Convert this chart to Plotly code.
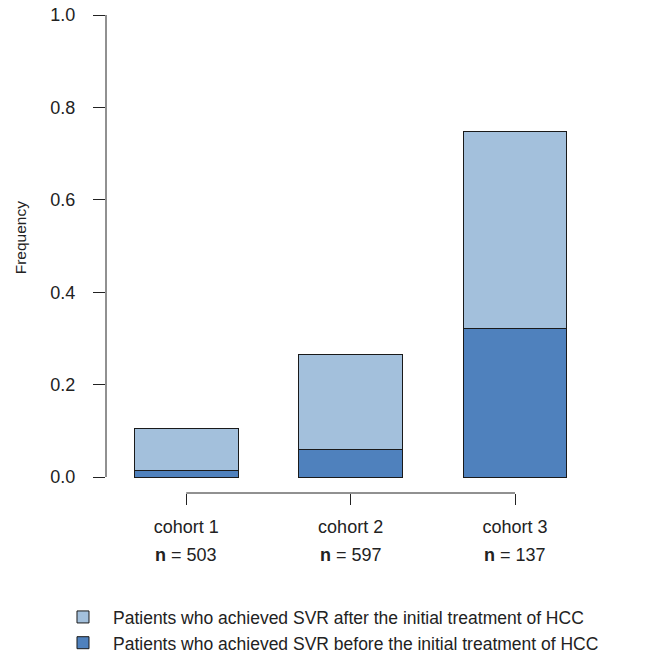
import plotly.graph_objects as go

# Cohorts and the share of patients in each SVR group
cohorts = ["cohort 1", "cohort 2", "cohort 3"]
n_patients = [503, 597, 137]
svr_before = [0.015, 0.059, 0.322]   # SVR before the initial treatment of HCC
svr_after = [0.089, 0.207, 0.425]    # SVR after the initial treatment of HCC (stacked on top)
y_ticks = [0.0, 0.2, 0.4, 0.6, 0.8, 1.0]

x_pos = list(range(len(cohorts)))
dark_blue = "#4F81BD"
light_blue = "#A3C0DC"
edge = "#1a1a1a"
font_family = "Liberation Sans, Arial, sans-serif"

fig = go.Figure()
fig.add_trace(go.Bar(
    x=x_pos, y=svr_before, width=0.63,
    marker=dict(color=dark_blue, line=dict(color=edge, width=1)),
    name="Patients who achieved SVR before the initial treatment of HCC",
))
fig.add_trace(go.Bar(
    x=x_pos, y=svr_after, width=0.63,
    marker=dict(color=light_blue, line=dict(color=edge, width=1)),
    name="Patients who achieved SVR after the initial treatment of HCC",
))

# Axis lines only span the data extent, base-graphics style
fig.add_shape(type="line", xref="paper", yref="y", x0=0, x1=0, y0=0, y1=1,
              line=dict(color="#222", width=1))
fig.add_shape(type="line", xref="x", yref="paper", x0=0, x1=2, y0=0, y1=0,
              line=dict(color="#222", width=1))

# Sample size below each cohort label
for xi, n in zip(x_pos, n_patients):
    fig.add_annotation(x=xi, xref="x", y=-0.1297, yref="paper",
                       text=f"<b>n</b> = {n}", showarrow=False,
                       xanchor="center", yanchor="middle",
                       font=dict(size=18, color="#222", family=font_family))

# Y-axis title
fig.add_annotation(x=-0.174, xref="paper", y=0.533, yref="paper",
                   text="Frequency", textangle=-90, showarrow=False,
                   xanchor="center", yanchor="middle",
                   font=dict(size=15.5, color="#222", family=font_family))

fig.update_layout(
    barmode="stack",
    width=655, height=654,
    margin=dict(l=106, r=55, t=15, b=161, autoexpand=False),
    paper_bgcolor="white", plot_bgcolor="white",
    font=dict(family=font_family, size=18, color="#222"),
    xaxis=dict(
        range=[-0.488, 2.517], tickvals=x_pos, ticktext=cohorts,
        ticks="outside", ticklen=11, tickcolor="#222", tickwidth=1,
        showline=False, showgrid=False, zeroline=False,
        ticklabelstandoff=6,
    ),
    yaxis=dict(
        range=[-0.0346, 1.0], tickvals=y_ticks,
        ticktext=[f"{v:.1f}" for v in y_ticks],
        ticks="outside", ticklen=12, tickcolor="#222", tickwidth=1,
        showline=False, showgrid=False, zeroline=False,
        ticklabelstandoff=14,
    ),
    legend=dict(
        xref="container", yref="container",
        x=0.0809, xanchor="left", y=0.084, yanchor="top",
        traceorder="reversed", font=dict(size=17.5, color="#222"),
        bgcolor="rgba(0,0,0,0)", itemwidth=50,
    ),
    showlegend=True,
)

fig.write_html("out.html")
